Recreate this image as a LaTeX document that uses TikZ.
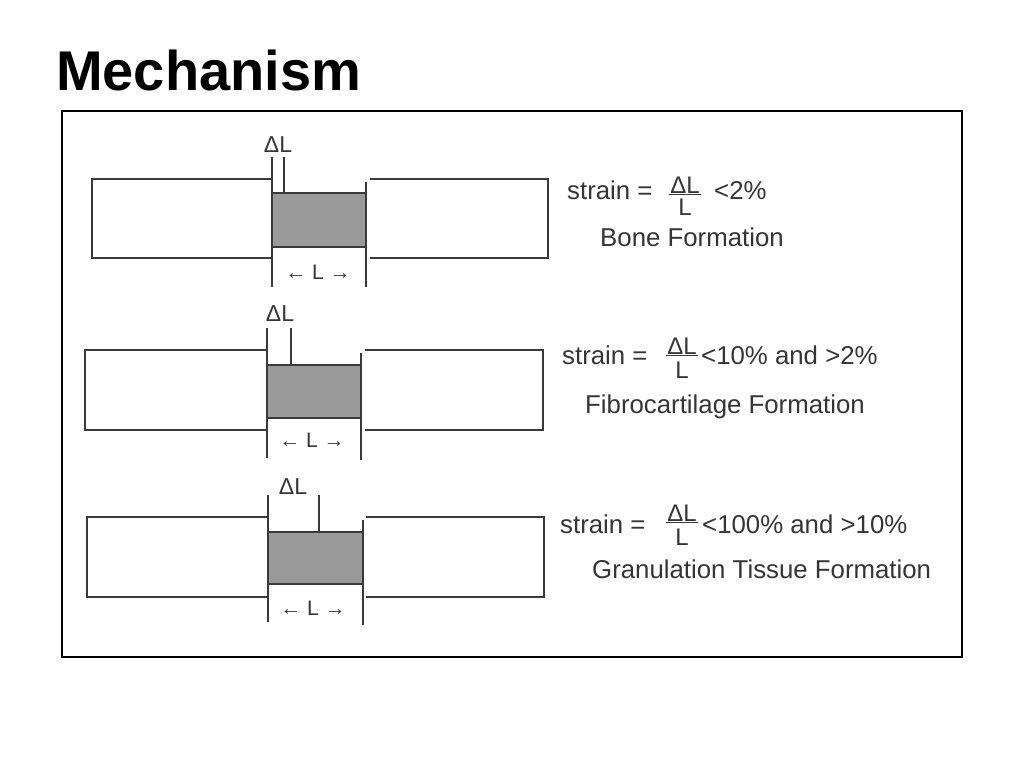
\documentclass[tikz,border=0pt]{standalone}
\usepackage{fontspec}
\setmainfont{Liberation Sans}
\begin{document}
\begin{tikzpicture}[x=1pt,y=-1pt,
    bar/.style={draw=linegray,line width=2.5pt},
    gapbox/.style={fill=gapgray,draw=linegray,line width=2.5pt},
    txt/.style={text=txtgray,font=\fontsize{25.8}{30}\selectfont,inner sep=0pt,anchor=west},
    fracpart/.style={text=txtgray,font=\fontsize{24}{28}\selectfont,inner sep=1pt},
    dlbl/.style={text=txtgray,font=\fontsize{23}{27}\selectfont,inner sep=0pt},
    llbl/.style={text=txtgray,font=\fontsize{21}{25}\selectfont,inner sep=0pt}]
  \definecolor{linegray}{HTML}{3A3A3A}
  \definecolor{gapgray}{HTML}{9A9A9A}
  \definecolor{txtgray}{HTML}{353535}

  \useasboundingbox (0,0) rectangle (1024,768);
  \node[anchor=west,inner sep=0pt,font=\fontsize{56}{60}\selectfont\bfseries] (title) at (56,70) {Mechanism};
  \draw[line width=2pt] (62,111) rectangle (962,657);

  % Bone
  \draw[bar] (272,179) -| (92,258) -- (272,258);
  \draw[bar] (272,157) -- (272,287);
  \draw[bar] (284,157) -- (284,193);
  \filldraw[gapbox] (272,193) rectangle (366,247);
  \draw[bar] (366,182) -- (366,287);
  \draw[bar] (370,179) -| (548,258) -- (370,258);
  \node[dlbl] (dlA) at (278,145) {ΔL};
  \node[llbl] (lenA) at (318,272) {← L →};
  \node[txt] (strainA) at (567,190) {strain =};
  \node[fracpart] (numA) at (685,185) {ΔL};
  \node[fracpart] (denA) at (685,207) {L};
  \draw[linegray,line width=1.5pt] (numA.south west) -- (numA.south east);
  \node[txt] (condA) at (714,191) {<2\%};
  \node[txt] (formA) at (600,237) {Bone Formation};

  % Fibrocartilage
  \draw[bar] (267,350) -| (85,430) -- (267,430);
  \draw[bar] (267,328) -- (267,458);
  \draw[bar] (291,328) -- (291,365);
  \filldraw[gapbox] (267,365) rectangle (361,418);
  \draw[bar] (361,353) -- (361,460);
  \draw[bar] (365,350) -| (543,430) -- (365,430);
  \node[dlbl] (dlB) at (280,314) {ΔL};
  \node[llbl] (lenB) at (312,440) {← L →};
  \node[txt] (strainB) at (562,355) {strain =};
  \node[fracpart] (numB) at (682,346) {ΔL};
  \node[fracpart] (denB) at (682,370) {L};
  \draw[linegray,line width=1.5pt] (numB.south west) -- (numB.south east);
  \node[txt] (condB) at (701,355) {<10\% and >2\%};
  \node[txt] (formB) at (585,407) {Fibrocartilage Formation};

  % Granulation tissue
  \draw[bar] (268,517) -| (87,597) -- (268,597);
  \draw[bar] (268,495) -- (268,622);
  \draw[bar] (319,495) -- (319,532);
  \filldraw[gapbox] (268,532) rectangle (363,584);
  \draw[bar] (363,520) -- (363,625);
  \draw[bar] (366,517) -| (544,597) -- (366,597);
  \node[dlbl] (dlC) at (293,487) {ΔL};
  \node[llbl] (lenC) at (313,608) {← L →};
  \node[txt] (strainC) at (560,524) {strain =};
  \node[fracpart] (numC) at (682,513) {ΔL};
  \node[fracpart] (denC) at (682,537) {L};
  \draw[linegray,line width=1.5pt] (numC.south west) -- (numC.south east);
  \node[txt] (condC) at (702,524) {<100\% and >10\%};
  \node[txt] (formC) at (592,569) {Granulation Tissue Formation};
\end{tikzpicture}
\end{document}
